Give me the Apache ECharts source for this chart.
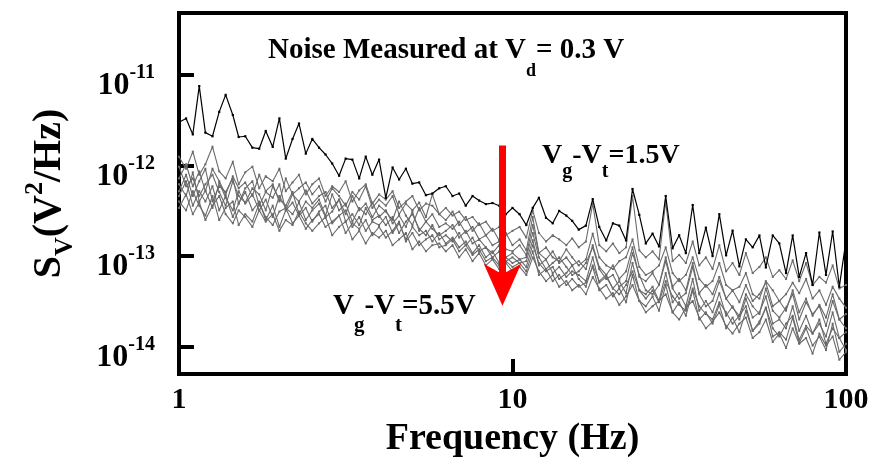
<!DOCTYPE html>
<html>
<head>
<meta charset="utf-8">
<script src="https://cdn.jsdelivr.net/npm/echarts@6/dist/echarts.min.js"></script>
<style>html,body{margin:0;padding:0;background:#fff}#c{width:872px;height:463px}</style>
</head>
<body>
<div id="c"></div>
<script>
// Frequency points (Hz)
const freq = [1.00,1.05,1.10,1.15,1.20,1.26,1.32,1.38,1.45,1.51,1.58,1.66,1.74,1.82,1.91,2.00,2.09,2.19,2.29,2.40,
2.51,2.63,2.75,2.88,3.02,3.16,3.31,3.47,3.63,3.80,3.98,4.17,4.37,4.57,4.79,5.01,5.25,5.50,5.75,6.03,
6.31,6.61,6.92,7.24,7.59,7.94,8.32,8.71,9.12,9.55,10.0,10.5,11.0,11.5,12.0,12.6,13.2,13.8,14.5,15.1,
15.8,16.6,17.4,18.2,19.1,20.0,20.9,21.9,22.9,24.0,25.1,26.3,27.5,28.8,30.2,31.6,33.1,34.7,36.3,38.0,
39.8,41.7,43.7,45.7,47.9,50.1,52.5,55.0,57.5,60.3,63.1,66.1,69.2,72.4,75.9,79.4,83.2,87.1,91.2,95.5,100];

// Sv (V^2/Hz), Vg-Vt = 1.5 V (black)
const sv15 = [3.0e-12,3.3e-12,2.2e-12,7.5e-12,2.3e-12,2.1e-12,3.9e-12,6.0e-12,3.6e-12,2.06e-12,
2.1e-12,1.57e-12,1.53e-12,2.4e-12,1.6e-12,3.3e-12,1.19e-12,1.96e-12,2.9e-12,1.35e-12,
1.96e-12,1.57e-12,1.32e-12,1.05e-12,7.7e-13,1.19e-12,1.16e-12,7.2e-13,1.25e-12,7.9e-13,
1.16e-12,4.4e-13,9.5e-13,7.0e-13,9.2e-13,6.3e-13,6.5e-13,4.7e-13,4.9e-13,5.6e-13,
5.9e-13,4.6e-13,4.9e-13,3.6e-13,4.6e-13,4.1e-13,3.75e-13,3.85e-13,3.6e-13,2.9e-13,
3.4e-13,2.9e-13,2.2e-13,3.4e-13,4.4e-13,2.65e-13,2.3e-13,3.15e-13,2.8e-13,2.45e-13,
1.96e-13,2.17e-13,4.25e-13,2.1e-13,1.49e-13,2.3e-13,2.17e-13,1.49e-13,5.5e-13,2.85e-13,
1.38e-13,1.77e-13,1.28e-13,4.6e-13,1.22e-13,1.7e-13,1.08e-13,3.66e-13,1.08e-13,2.06e-13,
1.0e-13,2.9e-13,1.02e-13,1.91e-13,7.7e-14,1.53e-13,1.25e-13,1.69e-13,7.5e-14,1.69e-13,
1.38e-13,6.5e-14,1.69e-13,5.9e-14,1.08e-13,4.8e-14,1.82e-13,6.2e-14,1.87e-13,4.6e-14,1.49e-13];

// Sv, Vg-Vt = 2.0 ... 5.5 V (grey)
const sv20 = [1.25e-12,9.2e-13,1.42e-12,7.9e-13,1.03e-12,1.61e-12,8.6e-13,7.2e-13,1.1e-12,6.2e-13,
8.4e-13,9.7e-13,5.6e-13,7.6e-13,6.7e-13,9.2e-13,5.2e-13,6.5e-13,7.9e-13,4.8e-13,
6.2e-13,7.2e-13,4.6e-13,5.9e-13,5.1e-13,6.7e-13,4.0e-13,5.3e-13,6.2e-13,3.8e-13,
4.8e-13,4.2e-13,5.2e-13,3.4e-13,4.0e-13,4.6e-13,3.2e-13,3.8e-13,3.6e-13,2.9e-13,
3.4e-13,2.8e-13,3.1e-13,2.5e-13,2.7e-13,2.2e-13,2.4e-13,1.9e-13,2.1e-13,1.7e-13,
1.9e-13,2.1e-13,1.6e-13,3.2e-13,1.8e-13,1.45e-13,1.7e-13,1.53e-13,1.32e-13,1.57e-13,
1.25e-13,1.45e-13,3.8e-13,1.32e-13,1.13e-13,1.38e-13,1.08e-13,1.25e-13,4.6e-13,1.16e-13,
9.7e-14,1.13e-13,9.2e-14,4.0e-13,8.8e-14,1.03e-13,8.4e-14,1.45e-13,7.9e-14,9.7e-14,
7.2e-14,1.32e-13,6.8e-14,8.4e-14,6.2e-14,1.08e-13,6.5e-14,7.6e-14,9.7e-14,5.9e-14,
7.0e-14,5.6e-14,9.0e-14,5.3e-14,8.4e-14,4.8e-14,5.9e-14,5.1e-14,7.9e-14,4.4e-14,4.8e-14];
const sv25 = [7.2e-13,1.03e-12,5.9e-13,8.6e-13,5.2e-13,9.2e-13,6.7e-13,4.8e-13,7.6e-13,5.6e-13,
6.5e-13,4.6e-13,7.9e-13,5.2e-13,6.2e-13,4.0e-13,7.2e-13,4.8e-13,5.6e-13,6.5e-13,
4.8e-13,5.9e-13,4.0e-13,5.6e-13,4.6e-13,3.6e-13,5.1e-13,4.2e-13,5.9e-13,3.4e-13,
4.2e-13,3.6e-13,4.6e-13,2.9e-13,3.8e-13,3.2e-13,3.9e-13,2.7e-13,4.8e-13,2.9e-13,
2.5e-13,3.1e-13,2.2e-13,2.7e-13,1.9e-13,2.3e-13,1.7e-13,2.0e-13,1.5e-13,1.8e-13,
1.32e-13,1.53e-13,1.16e-13,2.7e-13,1.08e-13,1.25e-13,9.7e-14,8.8e-14,1.19e-13,9.7e-14,
7.9e-14,9.2e-14,1.77e-13,9.7e-14,7.9e-14,7.2e-14,8.8e-14,9.7e-14,1.53e-13,7.6e-14,
6.2e-14,6.8e-14,7.9e-14,1.25e-13,6.5e-14,5.3e-14,6.2e-14,9.7e-14,5.6e-14,4.6e-14,
5.3e-14,8.4e-14,4.8e-14,4.2e-14,4.6e-14,6.5e-14,3.8e-14,3.4e-14,5.3e-14,4.2e-14,
3.2e-14,3.8e-14,5.1e-14,3.9e-14,5.6e-14,3.4e-14,4.2e-14,2.9e-14,4.6e-14,3.4e-14,2.7e-14];
const sv30 = [5.2e-13,7.9e-13,4.6e-13,6.7e-13,9.2e-13,4.0e-13,5.9e-13,5.1e-13,7.2e-13,3.8e-13,
5.6e-13,6.7e-13,3.6e-13,5.1e-13,4.4e-13,6.2e-13,3.2e-13,4.8e-13,4.0e-13,5.3e-13,
3.8e-13,4.6e-13,5.1e-13,3.4e-13,4.2e-13,2.9e-13,4.6e-13,3.2e-13,3.8e-13,2.7e-13,
3.6e-13,3.1e-13,2.5e-13,4.0e-13,2.8e-13,2.2e-13,3.4e-13,2.4e-13,2.9e-13,2.1e-13,
2.3e-13,2.0e-13,2.4e-13,1.8e-13,2.1e-13,1.53e-13,1.7e-13,1.32e-13,1.45e-13,1.19e-13,
1.13e-13,1.32e-13,1.03e-13,2.2e-13,1.08e-13,9.2e-14,1.13e-13,8.4e-14,9.7e-14,7.9e-14,
8.8e-14,7.2e-14,1.32e-13,7.6e-14,6.2e-14,7.9e-14,5.6e-14,6.8e-14,1.25e-13,5.9e-14,
5.3e-14,6.5e-14,4.8e-14,9.7e-14,4.6e-14,5.6e-14,4.2e-14,8.4e-14,3.9e-14,4.8e-14,
3.8e-14,5.9e-14,3.4e-14,4.2e-14,3.1e-14,4.8e-14,3.2e-14,3.8e-14,5.1e-14,2.8e-14,
3.2e-14,2.5e-14,4.2e-14,2.4e-14,3.4e-14,2.2e-14,2.9e-14,2.1e-14,3.8e-14,2.0e-14,2.3e-14];
const sv35 = [9.7e-13,5.9e-13,7.2e-13,4.6e-13,6.2e-13,7.9e-13,5.1e-13,3.6e-13,6.7e-13,4.6e-13,
3.9e-13,5.6e-13,4.8e-13,3.2e-13,5.9e-13,4.2e-13,3.6e-13,5.1e-13,2.9e-13,4.0e-13,
3.4e-13,4.2e-13,2.8e-13,4.8e-13,3.2e-13,3.8e-13,2.4e-13,3.4e-13,2.9e-13,3.9e-13,
2.7e-13,3.2e-13,2.3e-13,2.8e-13,2.1e-13,3.1e-13,1.9e-13,2.4e-13,2.0e-13,1.7e-13,
1.9e-13,2.2e-13,1.6e-13,1.9e-13,1.38e-13,1.53e-13,1.25e-13,1.08e-13,1.32e-13,9.7e-14,
1.08e-13,9.2e-14,9.7e-14,1.8e-13,9.7e-14,7.2e-14,8.4e-14,9.7e-14,7.6e-14,6.2e-14,
6.8e-14,8.4e-14,1.25e-13,7.2e-14,5.6e-14,6.2e-14,4.6e-14,5.3e-14,1.08e-13,6.2e-14,
4.2e-14,3.8e-14,4.8e-14,8.8e-14,4.4e-14,3.4e-14,3.9e-14,7.6e-14,3.8e-14,2.8e-14,
3.2e-14,5.3e-14,3.4e-14,2.7e-14,2.2e-14,3.8e-14,2.8e-14,2.3e-14,4.4e-14,2.5e-14,
2.1e-14,2.7e-14,3.8e-14,2.0e-14,3.1e-14,2.3e-14,2.8e-14,1.7e-14,3.2e-14,2.0e-14,1.6e-14];
const sv40 = [6.2e-13,4.6e-13,8.4e-13,4.0e-13,5.3e-13,3.4e-13,6.5e-13,4.4e-13,3.2e-13,5.2e-13,
3.8e-13,4.8e-13,3.2e-13,4.2e-13,2.7e-13,4.6e-13,3.4e-13,2.9e-13,3.9e-13,2.5e-13,
3.2e-13,3.8e-13,2.7e-13,3.1e-13,4.2e-13,2.4e-13,2.9e-13,2.2e-13,3.4e-13,2.5e-13,
2.8e-13,2.2e-13,2.7e-13,1.8e-13,2.4e-13,2.9e-13,2.0e-13,1.7e-13,2.2e-13,1.53e-13,
1.7e-13,1.45e-13,1.8e-13,1.32e-13,1.6e-13,1.13e-13,1.25e-13,9.7e-14,1.13e-13,8.8e-14,
9.7e-14,8.4e-14,8.8e-14,1.5e-13,7.9e-14,9.2e-14,6.5e-14,7.6e-14,5.9e-14,6.8e-14,
6.2e-14,5.3e-14,9.7e-14,5.1e-14,5.9e-14,4.4e-14,5.3e-14,3.9e-14,8.4e-14,4.2e-14,
3.8e-14,4.6e-14,3.2e-14,6.5e-14,3.1e-14,3.9e-14,2.8e-14,5.6e-14,2.5e-14,3.2e-14,
2.4e-14,3.9e-14,2.2e-14,2.8e-14,2.0e-14,3.4e-14,2.1e-14,2.4e-14,3.6e-14,1.8e-14,
2.0e-14,1.6e-14,2.8e-14,1.5e-14,2.2e-14,1.4e-14,1.8e-14,1.3e-14,2.4e-14,1.25e-14,1.45e-14];
const sv45 = [4.6e-13,6.7e-13,3.6e-13,5.2e-13,4.0e-13,5.9e-13,3.2e-13,4.6e-13,2.7e-13,3.8e-13,
5.1e-13,3.2e-13,4.0e-13,2.5e-13,3.6e-13,2.1e-13,3.2e-13,3.9e-13,2.8e-13,3.4e-13,
2.4e-13,3.1e-13,3.6e-13,2.3e-13,2.8e-13,3.2e-13,2.1e-13,2.7e-13,1.9e-13,2.4e-13,
2.2e-13,2.7e-13,1.8e-13,2.3e-13,1.53e-13,2.1e-13,1.7e-13,1.9e-13,1.45e-13,1.8e-13,
1.38e-13,1.6e-13,1.25e-13,1.45e-13,1.08e-13,1.32e-13,9.7e-14,1.13e-13,8.4e-14,9.7e-14,
8.4e-14,9.2e-14,7.6e-14,1.32e-13,8.4e-14,6.8e-14,7.6e-14,5.6e-14,6.5e-14,7.9e-14,
5.6e-14,4.6e-14,7.9e-14,5.3e-14,6.2e-14,4.4e-14,3.8e-14,4.8e-14,6.8e-14,4.2e-14,
3.4e-14,4.2e-14,3.1e-14,5.3e-14,3.6e-14,2.9e-14,2.5e-14,4.4e-14,2.8e-14,2.3e-14,
2.0e-14,3.1e-14,2.4e-14,1.8e-14,2.2e-14,2.8e-14,1.5e-14,1.9e-14,2.7e-14,1.6e-14,
1.3e-14,1.8e-14,2.2e-14,1.2e-14,1.7e-14,1.4e-14,2.0e-14,1.08e-14,1.6e-14,1.25e-14,9.2e-15];
const sv50 = [4.0e-13,3.2e-13,5.2e-13,3.6e-13,2.8e-13,4.6e-13,2.5e-13,3.4e-13,4.0e-13,2.2e-13,
2.9e-13,2.4e-13,3.8e-13,2.7e-13,2.2e-13,3.1e-13,3.4e-13,2.3e-13,2.8e-13,2.0e-13,
2.5e-13,2.9e-13,2.1e-13,2.4e-13,2.8e-13,1.8e-13,2.3e-13,2.0e-13,2.5e-13,1.7e-13,
2.1e-13,1.6e-13,1.9e-13,2.4e-13,1.45e-13,1.8e-13,1.32e-13,1.53e-13,1.7e-13,1.25e-13,
1.32e-13,1.53e-13,1.13e-13,1.32e-13,1.03e-13,1.19e-13,8.8e-14,9.7e-14,7.9e-14,8.8e-14,
7.6e-14,8.4e-14,6.8e-14,1.13e-13,6.2e-14,7.2e-14,5.3e-14,6.2e-14,4.8e-14,5.6e-14,
4.6e-14,5.1e-14,7.6e-14,4.2e-14,4.8e-14,3.6e-14,4.4e-14,3.1e-14,6.2e-14,3.2e-14,
2.8e-14,3.6e-14,2.5e-14,4.8e-14,2.4e-14,3.1e-14,2.2e-14,4.2e-14,2.0e-14,2.4e-14,
1.8e-14,2.9e-14,1.6e-14,2.1e-14,1.45e-14,2.5e-14,1.5e-14,1.8e-14,2.7e-14,1.3e-14,
1.45e-14,1.2e-14,2.1e-14,1.1e-14,1.6e-14,1.03e-14,1.3e-14,9.2e-15,1.8e-14,8.8e-15,1.08e-14];
const sv55 = [3.4e-13,4.8e-13,2.9e-13,3.9e-13,2.5e-13,3.6e-13,4.6e-13,2.9e-13,2.3e-13,3.2e-13,
2.7e-13,2.1e-13,3.2e-13,2.4e-13,2.9e-13,1.9e-13,2.5e-13,2.2e-13,3.1e-13,2.3e-13,
1.9e-13,2.3e-13,2.7e-13,1.7e-13,2.1e-13,2.4e-13,1.53e-13,1.9e-13,1.38e-13,1.8e-13,
1.6e-13,1.9e-13,1.32e-13,1.53e-13,1.8e-13,1.19e-13,1.45e-13,1.13e-13,1.32e-13,1.38e-13,
1.13e-13,1.32e-13,9.7e-14,1.19e-13,8.8e-14,1.08e-13,7.9e-14,9.2e-14,7.2e-14,8.4e-14,
6.8e-14,7.6e-14,6.2e-14,9.7e-14,6.8e-14,5.3e-14,6.2e-14,4.6e-14,5.3e-14,4.2e-14,
4.8e-14,3.8e-14,5.9e-14,4.4e-14,3.4e-14,3.9e-14,2.9e-14,3.6e-14,4.8e-14,3.2e-14,
2.4e-14,2.8e-14,3.2e-14,3.8e-14,2.4e-14,2.0e-14,2.7e-14,3.2e-14,2.1e-14,1.6e-14,
1.9e-14,2.4e-14,1.7e-14,1.4e-14,1.8e-14,2.1e-14,1.25e-14,1.45e-14,2.0e-14,1.13e-14,
1.4e-14,9.7e-15,1.6e-14,1.08e-14,1.25e-14,8.4e-15,1.4e-14,1.03e-14,1.3e-14,7.2e-15,8.8e-15];

const greySeries = [sv20, sv25, sv30, sv35, sv40, sv45, sv50, sv55];
const yTickValues = [1e-14, 1e-13, 1e-12, 1e-11];
// arrow from Vg-Vt = 1.5 V towards 5.5 V
const arrowFreq = 9.33;
const arrowFrom = 1.66e-12;     // top of shaft
const arrowShaftEnd = 6.1e-14;  // where the shaft meets the head
const arrowHeadAnchor = 2.84e-14; // anchor of the arrow head

const FONT = '"Liberation Serif", "Times New Roman", serif';
const pair = (arr) => freq.map((f, i) => [f, arr[i]]);

const series = [];
greySeries.forEach((arr) => {
  series.push({
    type: 'line', data: pair(arr), showAllSymbol: true,
    symbol: 'rect', symbolSize: 2,
    lineStyle: { color: '#6a6a6a', width: 1.1 },
    itemStyle: { color: '#6a6a6a' },
    silent: true, z: 2
  });
});
series.push({
  type: 'line', data: pair(sv15), showAllSymbol: true,
  symbol: 'rect', symbolSize: 2.2,
  lineStyle: { color: '#000', width: 1.2 },
  itemStyle: { color: '#000' },
  silent: true, z: 3,
  markLine: {
    silent: true, symbol: ['none', 'none'],
    lineStyle: { color: '#ff0000', width: 7, type: 'solid' },
    label: { show: false },
    data: [[{ coord: [arrowFreq, arrowFrom] }, { coord: [arrowFreq, arrowShaftEnd] }]]
  },
  markPoint: {
    silent: true,
    symbol: 'arrow', symbolSize: [28, 42], symbolRotate: 180,
    itemStyle: { color: '#ff0000' },
    label: { show: false },
    data: [{ coord: [arrowFreq, arrowHeadAnchor] }]
  }
});

const chart = echarts.init(document.getElementById('c'), null, { renderer: 'canvas' });
chart.setOption({
  animation: false,
  backgroundColor: '#fff',
  grid: { left: 179, right: 26, top: 13, bottom: 82, show: true, borderColor: '#000', borderWidth: 4, backgroundColor: 'transparent' },
  xAxis: {
    type: 'log', logBase: 10, min: 1, max: 100,
    axisLine: { show: false },
    splitLine: { show: false },
    axisTick: { show: true, inside: true, length: 15, lineStyle: { color: '#000', width: 4 } },
    minorTick: { show: false },
    axisLabel: { fontFamily: FONT, fontWeight: 'bold', fontSize: 30, color: '#000', margin: 11,
      formatter: (v) => String(Math.round(v)) },
    name: 'Frequency (Hz)', nameLocation: 'middle', nameGap: 40,
    nameTextStyle: { fontFamily: FONT, fontWeight: 'bold', fontSize: 38, color: '#000' }
  },
  yAxis: {
    type: 'log', logBase: 10, min: 5e-15, max: 4.8e-11,
    axisLine: { show: false },
    splitLine: { show: false },
    axisTick: { show: true, inside: true, length: 15, customValues: yTickValues, lineStyle: { color: '#000', width: 4 } },
    axisLabel: {
      customValues: yTickValues, margin: 24, padding: [8, 0, 0, 0],
      formatter: (v) => '{b|10}{s|' + Math.round(Math.log10(v)) + '}',
      rich: {
        b: { fontFamily: FONT, fontWeight: 'bold', fontSize: 32, color: '#000', lineHeight: 32, padding: [7, 0, 0, 0], verticalAlign: 'top' },
        s: { fontFamily: FONT, fontWeight: 'bold', fontSize: 20, color: '#000', lineHeight: 20, verticalAlign: 'top' }
      }
    },
    name: '{m|S}{sub|V}{m|(V}{sup|2}{m|/Hz)}', nameLocation: 'middle', nameGap: 117,
    nameTextStyle: {
      rich: {
        m: { fontFamily: FONT, fontWeight: 'bold', fontSize: 40, color: '#000', lineHeight: 40, padding: [8, 0, 0, 0], verticalAlign: 'top' },
        sub: { fontFamily: FONT, fontWeight: 'bold', fontSize: 26, color: '#000', lineHeight: 26, padding: [30, 0, 0, 0], verticalAlign: 'top' },
        sup: { fontFamily: FONT, fontWeight: 'bold', fontSize: 26, color: '#000', lineHeight: 26, verticalAlign: 'top' }
      }
    }
  },
  graphic: [
    { type: 'text', left: 268, top: 36, silent: true,
      style: { text: '{m|Noise Measured at V}{s|d}{m|= 0.3 V}',
        rich: {
          m: { fontFamily: FONT, fontWeight: 'bold', fontSize: 29, fill: '#000', lineHeight: 30, verticalAlign: 'top' },
          s: { fontFamily: FONT, fontWeight: 'bold', fontSize: 18, fill: '#000', lineHeight: 18, padding: [26, 0, 0, 0], verticalAlign: 'top' }
        } } },
    { type: 'text', left: 542, top: 142, silent: true,
      style: { text: '{m|V}{s|g}{m|-V}{s|t}{m|=1.5V}',
        rich: {
          m: { fontFamily: FONT, fontWeight: 'bold', fontSize: 28, fill: '#000', lineHeight: 30, verticalAlign: 'top' },
          s: { fontFamily: FONT, fontWeight: 'bold', fontSize: 20, fill: '#000', lineHeight: 20, padding: [20, 0, 0, 0], verticalAlign: 'top' }
        } } },
    { type: 'text', left: 333, top: 292, silent: true,
      style: { text: '{m|V}{s|g}{m|-V}{s|t}{m|=5.5V}',
        rich: {
          m: { fontFamily: FONT, fontWeight: 'bold', fontSize: 29, fill: '#000', lineHeight: 30, verticalAlign: 'top' },
          s: { fontFamily: FONT, fontWeight: 'bold', fontSize: 21, fill: '#000', lineHeight: 21, padding: [23, 0, 0, 0], verticalAlign: 'top' }
        } } }
  ],
  series: series
});
</script>
</body>
</html>
